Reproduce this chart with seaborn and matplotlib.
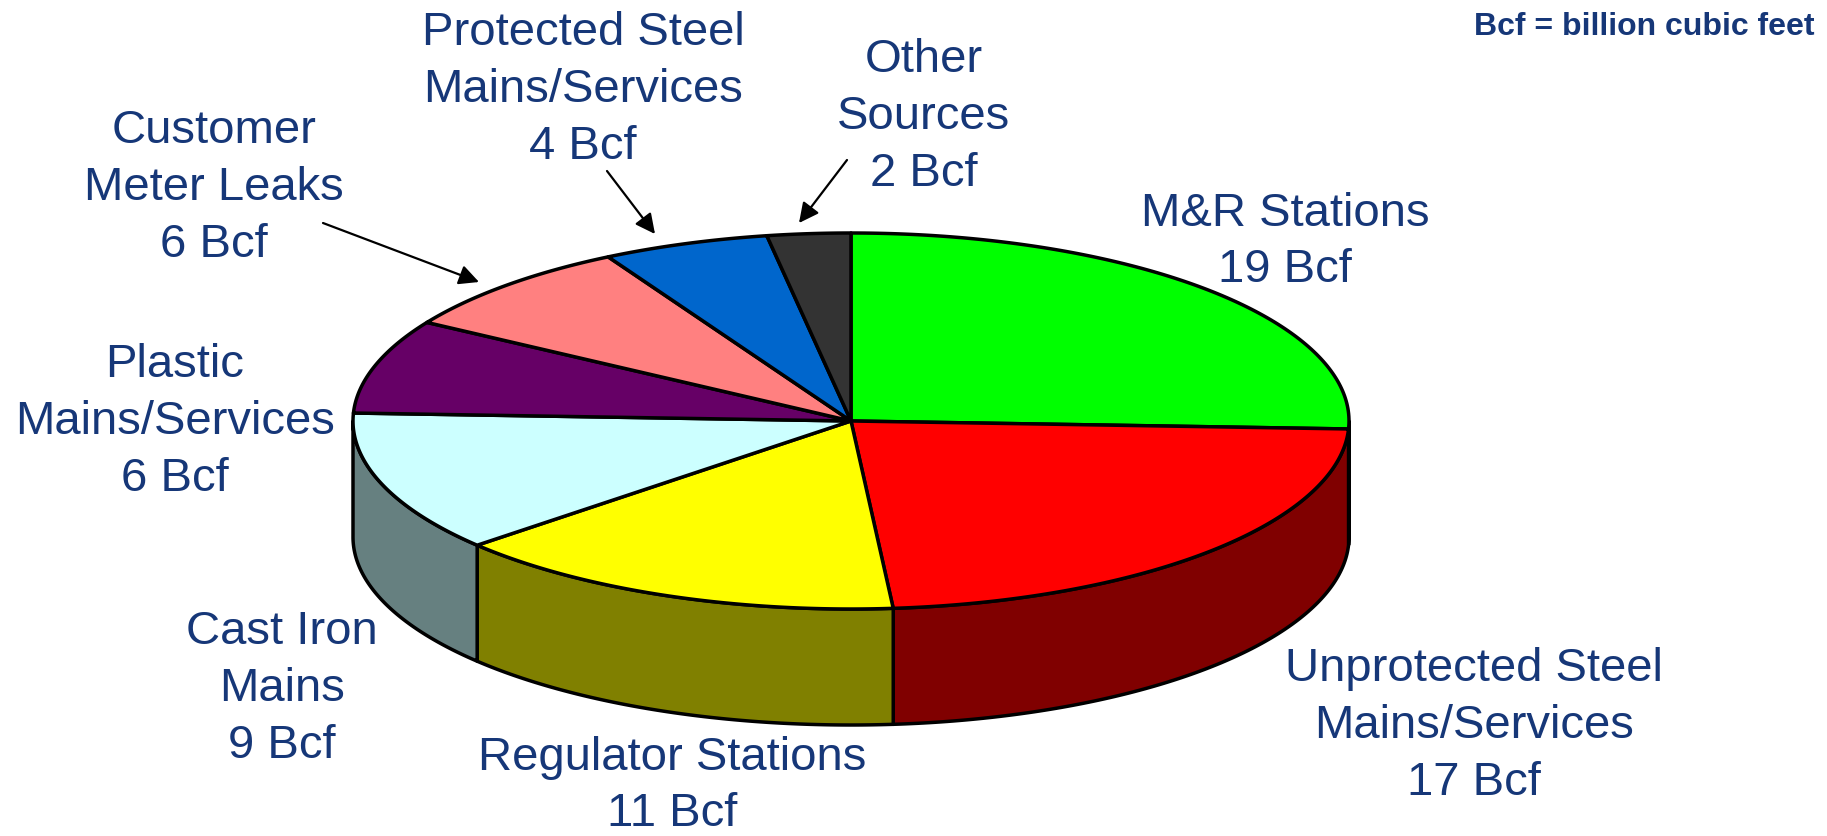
import numpy as np
import matplotlib.pyplot as plt
import seaborn as sns
from matplotlib.patches import Polygon

# data
sources = ["M&R Stations", "Unprotected Steel\nMains/Services", "Regulator Stations",
           "Cast Iron\nMains", "Plastic\nMains/Services", "Customer\nMeter Leaks",
           "Protected Steel\nMains/Services", "Other\nSources"]
bcf = [19, 17, 11, 9, 6, 6, 4, 2]
top_colors = ["#00FF00", "#FF0000", "#FFFF00", "#CCFFFF",
              "#660066", "#FF8080", "#0066CC", "#333333"]
side_colors = ["#008000", "#800000", "#808000", "#668080",
               "#330033", "#804040", "#003366", "#1A1A1A"]

# label layout (pixel coords, y down)
label_pos = [(1285, 242), (1474, 726), (672, 786), (282, 689),
             (175, 422), (214, 188), (583, 90), (924, 117)]
# arrows: (tail, tip) for the small slices, None otherwise
arrows = [None, None, None, None, None,
          ((323, 224), (479, 283)), ((607, 172), (655, 235)), ((847, 161), (799, 224))]

TEXT_COLOR = "#163778"
CX, CY, RX, RY, DEPTH = 851, 422, 498, 188, 116


def arc(t0, t1, n=120, dy=0):
    t = np.radians(np.linspace(t0, t1, n))
    return np.column_stack([CX + RX * np.cos(t), CY - RY * np.sin(t) + dy])


def draw_pie(ax):
    vals = np.array(bcf, dtype=float)
    ends = 90 - np.cumsum(vals / vals.sum() * 360)
    starts = np.concatenate([[90], ends[:-1]])

    # side walls, only the front half (t in [-180, 0]) is visible
    for t0, t1, col in zip(starts, ends, side_colors):
        a, b = min(t0, 0), max(t1, -180)
        if a <= b:
            continue
        top = arc(a, b)
        bottom = arc(b, a, dy=DEPTH)
        ax.add_patch(Polygon(np.vstack([top, bottom]), closed=True, facecolor=col,
                             edgecolor="black", lw=2.5, joinstyle="round"))

    # top face
    for t0, t1, col in zip(starts, ends, top_colors):
        pts = np.vstack([[CX, CY], arc(t0, t1)])
        ax.add_patch(Polygon(pts, closed=True, facecolor=col,
                             edgecolor="black", lw=2.5, joinstyle="round"))


sns.set_theme(style="white")
plt.rcParams["font.family"] = ["Liberation Sans", "DejaVu Sans"]

fig = plt.figure(figsize=(18.27, 8.37), dpi=100)
ax = fig.add_axes([0, 0, 1, 1])
ax.set_xlim(0, 1827)
ax.set_ylim(837, 0)
ax.axis("off")

draw_pie(ax)

for name, val, (x, y) in zip(sources, bcf, label_pos):
    ax.text(x, y, f"{name}\n{val} Bcf", ha="center", va="center", fontsize=34,
            color=TEXT_COLOR, linespacing=1.38)

for arr in arrows:
    if arr is None:
        continue
    tail, tip = arr
    ax.annotate("", xy=tip, xytext=tail,
                arrowprops=dict(arrowstyle="-|>", color="black", lw=1.6,
                                mutation_scale=30, shrinkA=0, shrinkB=0))

ax.text(1644, 35, "Bcf = billion cubic feet", ha="center", va="baseline",
        fontsize=23, fontweight="bold", color=TEXT_COLOR)

fig.savefig("out.png", dpi=100)
